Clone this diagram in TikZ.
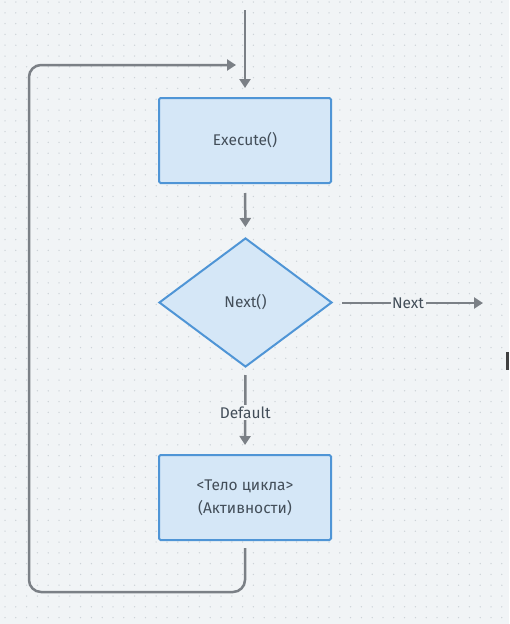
\documentclass[tikz,border=0pt]{standalone}
\usepackage{fontspec}
\setmainfont{Fira Sans}
\usetikzlibrary{shapes.geometric,arrows.meta}
\definecolor{bgc}{HTML}{F1F4F6}
\definecolor{dotc}{HTML}{CDD3D8}
\definecolor{boxfill}{HTML}{D5E7F7}
\definecolor{boxline}{HTML}{4F95D6}
\definecolor{arrc}{HTML}{7B8086}
\definecolor{txtc}{HTML}{434E59}
\tikzset{
  stepbox/.style={draw=boxline, fill=boxfill, line width=2pt, rounded corners=1.5pt,
    minimum width=172pt, minimum height=85pt, inner sep=0pt, align=center,
    text=txtc, font=\fontsize{15.5}{23}\selectfont},
  decbox/.style={draw=boxline, fill=boxfill, line width=2pt, diamond, aspect=1.34,
    minimum width=173pt, minimum height=129pt, inner sep=0pt,
    text=txtc, font=\fontsize{15.5}{18}\selectfont},
  arr/.style={draw=arrc, line width=2.5pt, -{Triangle[length=9pt,width=11pt]}},
  lbl/.style={fill=bgc, inner sep=1.5pt, text=txtc, font=\fontsize{15.5}{18}\selectfont}
}
\begin{document}
\begin{tikzpicture}[x=1pt,y=-1pt]
\fill[bgc] (0,0) rectangle (509,624);
\useasboundingbox (0,0) rectangle (509,624);
\foreach \i in {0,...,47}{
  \foreach \j in {0,...,57}{
    \fill[dotc] (\i*10.8+5,\j*10.8+2) circle (0.75pt);
  }
}
\fill[black!75] (506,352) rectangle (509,370);

\node[stepbox] (exec) at (245,140.5) {Execute()};
\node[decbox] (dec) at (245.5,302.5) {Next()};
\node[stepbox] (body) at (245,497.5) {<Тело цикла>\\(Активности)};

\coordinate (top) at (245,10);
\coordinate (nextend) at (483,303);
\coordinate (br) at (245,592);
\coordinate (bl) at (29,592);
\coordinate (tl) at (29,65);
\coordinate (loopend) at (236,65);

\draw[arr, shorten >=9pt] (top) -- (exec.north);
\draw[arr, shorten <=9pt, shorten >=10pt] (exec.south) -- (dec.north);
\draw[arr, shorten <=9pt] (dec.east) ++(0,0.5) -- node[lbl]{Next} (nextend);
\draw[arr, shorten <=7pt, shorten >=9pt] (dec.south) -- node[lbl, pos=0.52]{Default} (body.north);
\draw[arr, rounded corners=12pt, shorten <=7pt] (body.south) -- (br) -- (bl) -- (tl) -- (loopend);
\end{tikzpicture}
\end{document}
